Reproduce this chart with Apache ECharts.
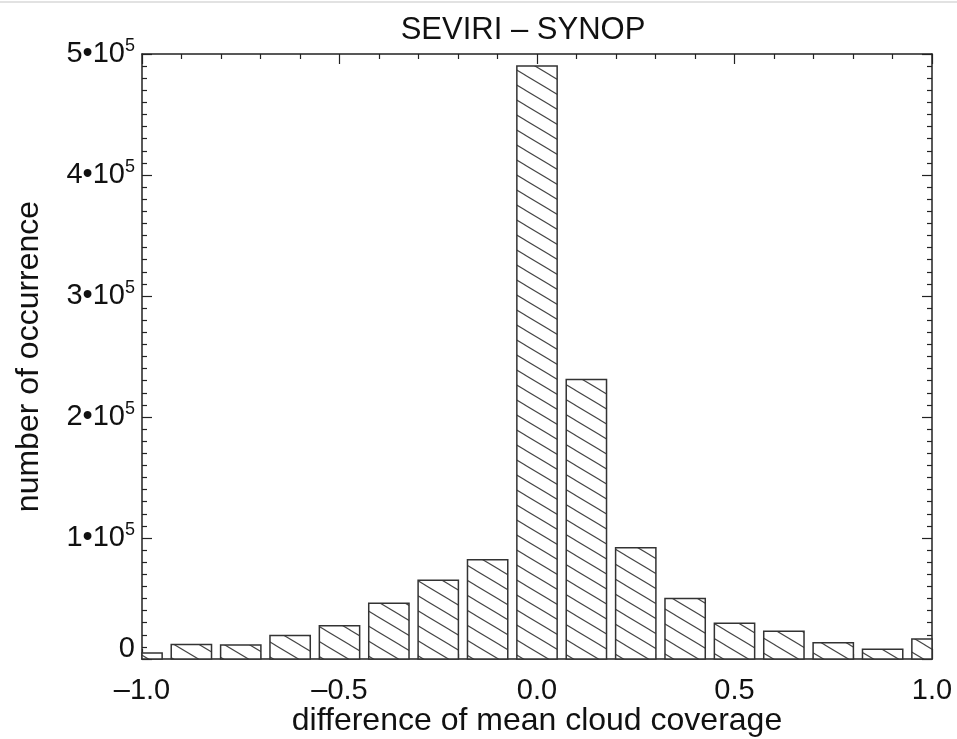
<!DOCTYPE html>
<html>
<head>
<meta charset="utf-8">
<style>
  html, body { margin: 0; padding: 0; background: #fff; }
  #main { width: 957px; height: 739px; }
</style>
<script src="https://cdn.jsdelivr.net/npm/echarts@6/dist/echarts.min.js"></script>
</head>
<body>
<div id="main"></div>
<script>
// histogram bins (centre of each bin) and counts
var binCenters = [-1.0, -0.875, -0.75, -0.625, -0.5, -0.375, -0.25, -0.125, 0.0,
                  0.125, 0.25, 0.375, 0.5, 0.625, 0.75, 0.875, 1.0];
var counts = [5000, 12000, 11500, 19500, 27500, 46000, 65000, 82000, 490000,
              231000, 92000, 50000, 29500, 23000, 13500, 8000, 16500];

var font = "'Liberation Sans', Arial, Helvetica, sans-serif";
var ink = '#222';
var halfBar = 0.051; // half bar width in x units

// hatch pattern: lines going down to the right
function hatch() {
  var w = 25, h = 15;
  var c = document.createElement('canvas');
  c.width = w; c.height = h;
  var ctx = c.getContext('2d');
  ctx.fillStyle = '#fff';
  ctx.fillRect(0, 0, w, h);
  ctx.strokeStyle = '#444';
  ctx.lineWidth = 1.1;
  for (var k = -1; k <= 1; k++) {
    ctx.beginPath();
    ctx.moveTo(-w, -h + k * h);
    ctx.lineTo(2 * w, 2 * h + k * h);
    ctx.stroke();
  }
  return c;
}
var hatchFill = { image: hatch(), repeat: 'repeat' };

var data = binCenters.map(function (x, i) { return [x, counts[i]]; });

var chart = echarts.init(document.getElementById('main'));

var tickX = {
  type: 'value', min: -1, max: 1, interval: 0.5,
  axisLine: { show: true, onZero: false, lineStyle: { color: ink, width: 1.5 } },
  axisTick: { show: true, inside: true, length: 10, lineStyle: { color: ink, width: 1.2 } },
  minorTick: { show: true, splitNumber: 5, length: 5, lineStyle: { color: ink, width: 1.2 } },
  splitLine: { show: false },
  minorSplitLine: { show: false }
};
var tickY = {
  type: 'value', min: 0, max: 500000, interval: 100000,
  axisLine: { show: true, onZero: false, lineStyle: { color: ink, width: 1.5 } },
  axisTick: { show: true, inside: true, length: 10, lineStyle: { color: ink, width: 1.2 } },
  minorTick: { show: true, splitNumber: 10, length: 5, lineStyle: { color: ink, width: 1.2 } },
  splitLine: { show: false },
  minorSplitLine: { show: false }
};

function renderBar(params, api) {
  var x = api.value(0), y = api.value(1);
  var p0 = api.coord([x - halfBar, y]);
  var p1 = api.coord([x + halfBar, 0]);
  var cs = params.coordSys;
  var rect = echarts.graphic.clipRectByRect(
    { x: p0[0], y: p0[1], width: p1[0] - p0[0], height: p1[1] - p0[1] },
    { x: cs.x, y: cs.y, width: cs.width, height: cs.height }
  );
  if (!rect) return;
  return {
    type: 'rect',
    shape: rect,
    style: { fill: hatchFill, stroke: '#333', lineWidth: 1.5 }
  };
}

chart.setOption({
  backgroundColor: '#fff',
  animation: false,
  title: {
    text: 'SEVIRI – SYNOP',
    left: 518, top: 10, textAlign: 'center',
    textStyle: { fontFamily: font, fontSize: 31, fontWeight: 'normal', color: '#111' }
  },
  grid: { left: 142, right: 25, top: 54, bottom: 80, outerBoundsMode: 'none', containLabel: false },
  xAxis: [
    echarts.util.merge({
      position: 'bottom',
      name: 'difference of mean cloud coverage',
      nameLocation: 'middle', nameGap: 46, nameMoveOverlap: false,
      nameTextStyle: { fontFamily: font, fontSize: 32, color: '#111' },
      axisLabel: {
        margin: 17, fontFamily: font, fontSize: 29, color: '#111',
        formatter: function (v) {
          return (v < 0 ? '\u2013' : '') + Math.abs(v).toFixed(1);
        }
      }
    }, tickX, true),
    echarts.util.merge({ position: 'top', axisLabel: { show: false } }, tickX, true)
  ],
  yAxis: [
    echarts.util.merge({
      position: 'left',
      name: 'number of occurrence',
      nameLocation: 'middle', nameGap: 97, nameMoveOverlap: false,
      nameTextStyle: { fontFamily: font, fontSize: 32, color: '#111' },
      axisLabel: {
        margin: 7, color: '#111',
        formatter: function (v) {
          var n = Math.round(v / 100000);
          if (n === 0) return '{z|0}';
          return '{a|' + n + '\u202210}{s|5}';
        },
        rich: {
          a: { fontFamily: font, fontSize: 29, color: '#111', lineHeight: 34 },
          s: { fontFamily: font, fontSize: 18, color: '#111', verticalAlign: 'top', lineHeight: 30 },
          z: { fontFamily: font, fontSize: 29, color: '#111', lineHeight: 34, padding: [0, 0, 20, 0] }
        }
      }
    }, tickY, true),
    echarts.util.merge({ position: 'right', axisLabel: { show: false } }, tickY, true)
  ],
  graphic: [{
    type: 'line', shape: { x1: 0, y1: 2, x2: 957, y2: 2 },
    style: { stroke: '#e2e2e2', lineWidth: 2 }
  }],
  series: [{
    type: 'custom',
    xAxisIndex: 0, yAxisIndex: 0,
    data: data,
    renderItem: renderBar,
    encode: { x: 0, y: 1 }
  }]
});
</script>
</body>
</html>
